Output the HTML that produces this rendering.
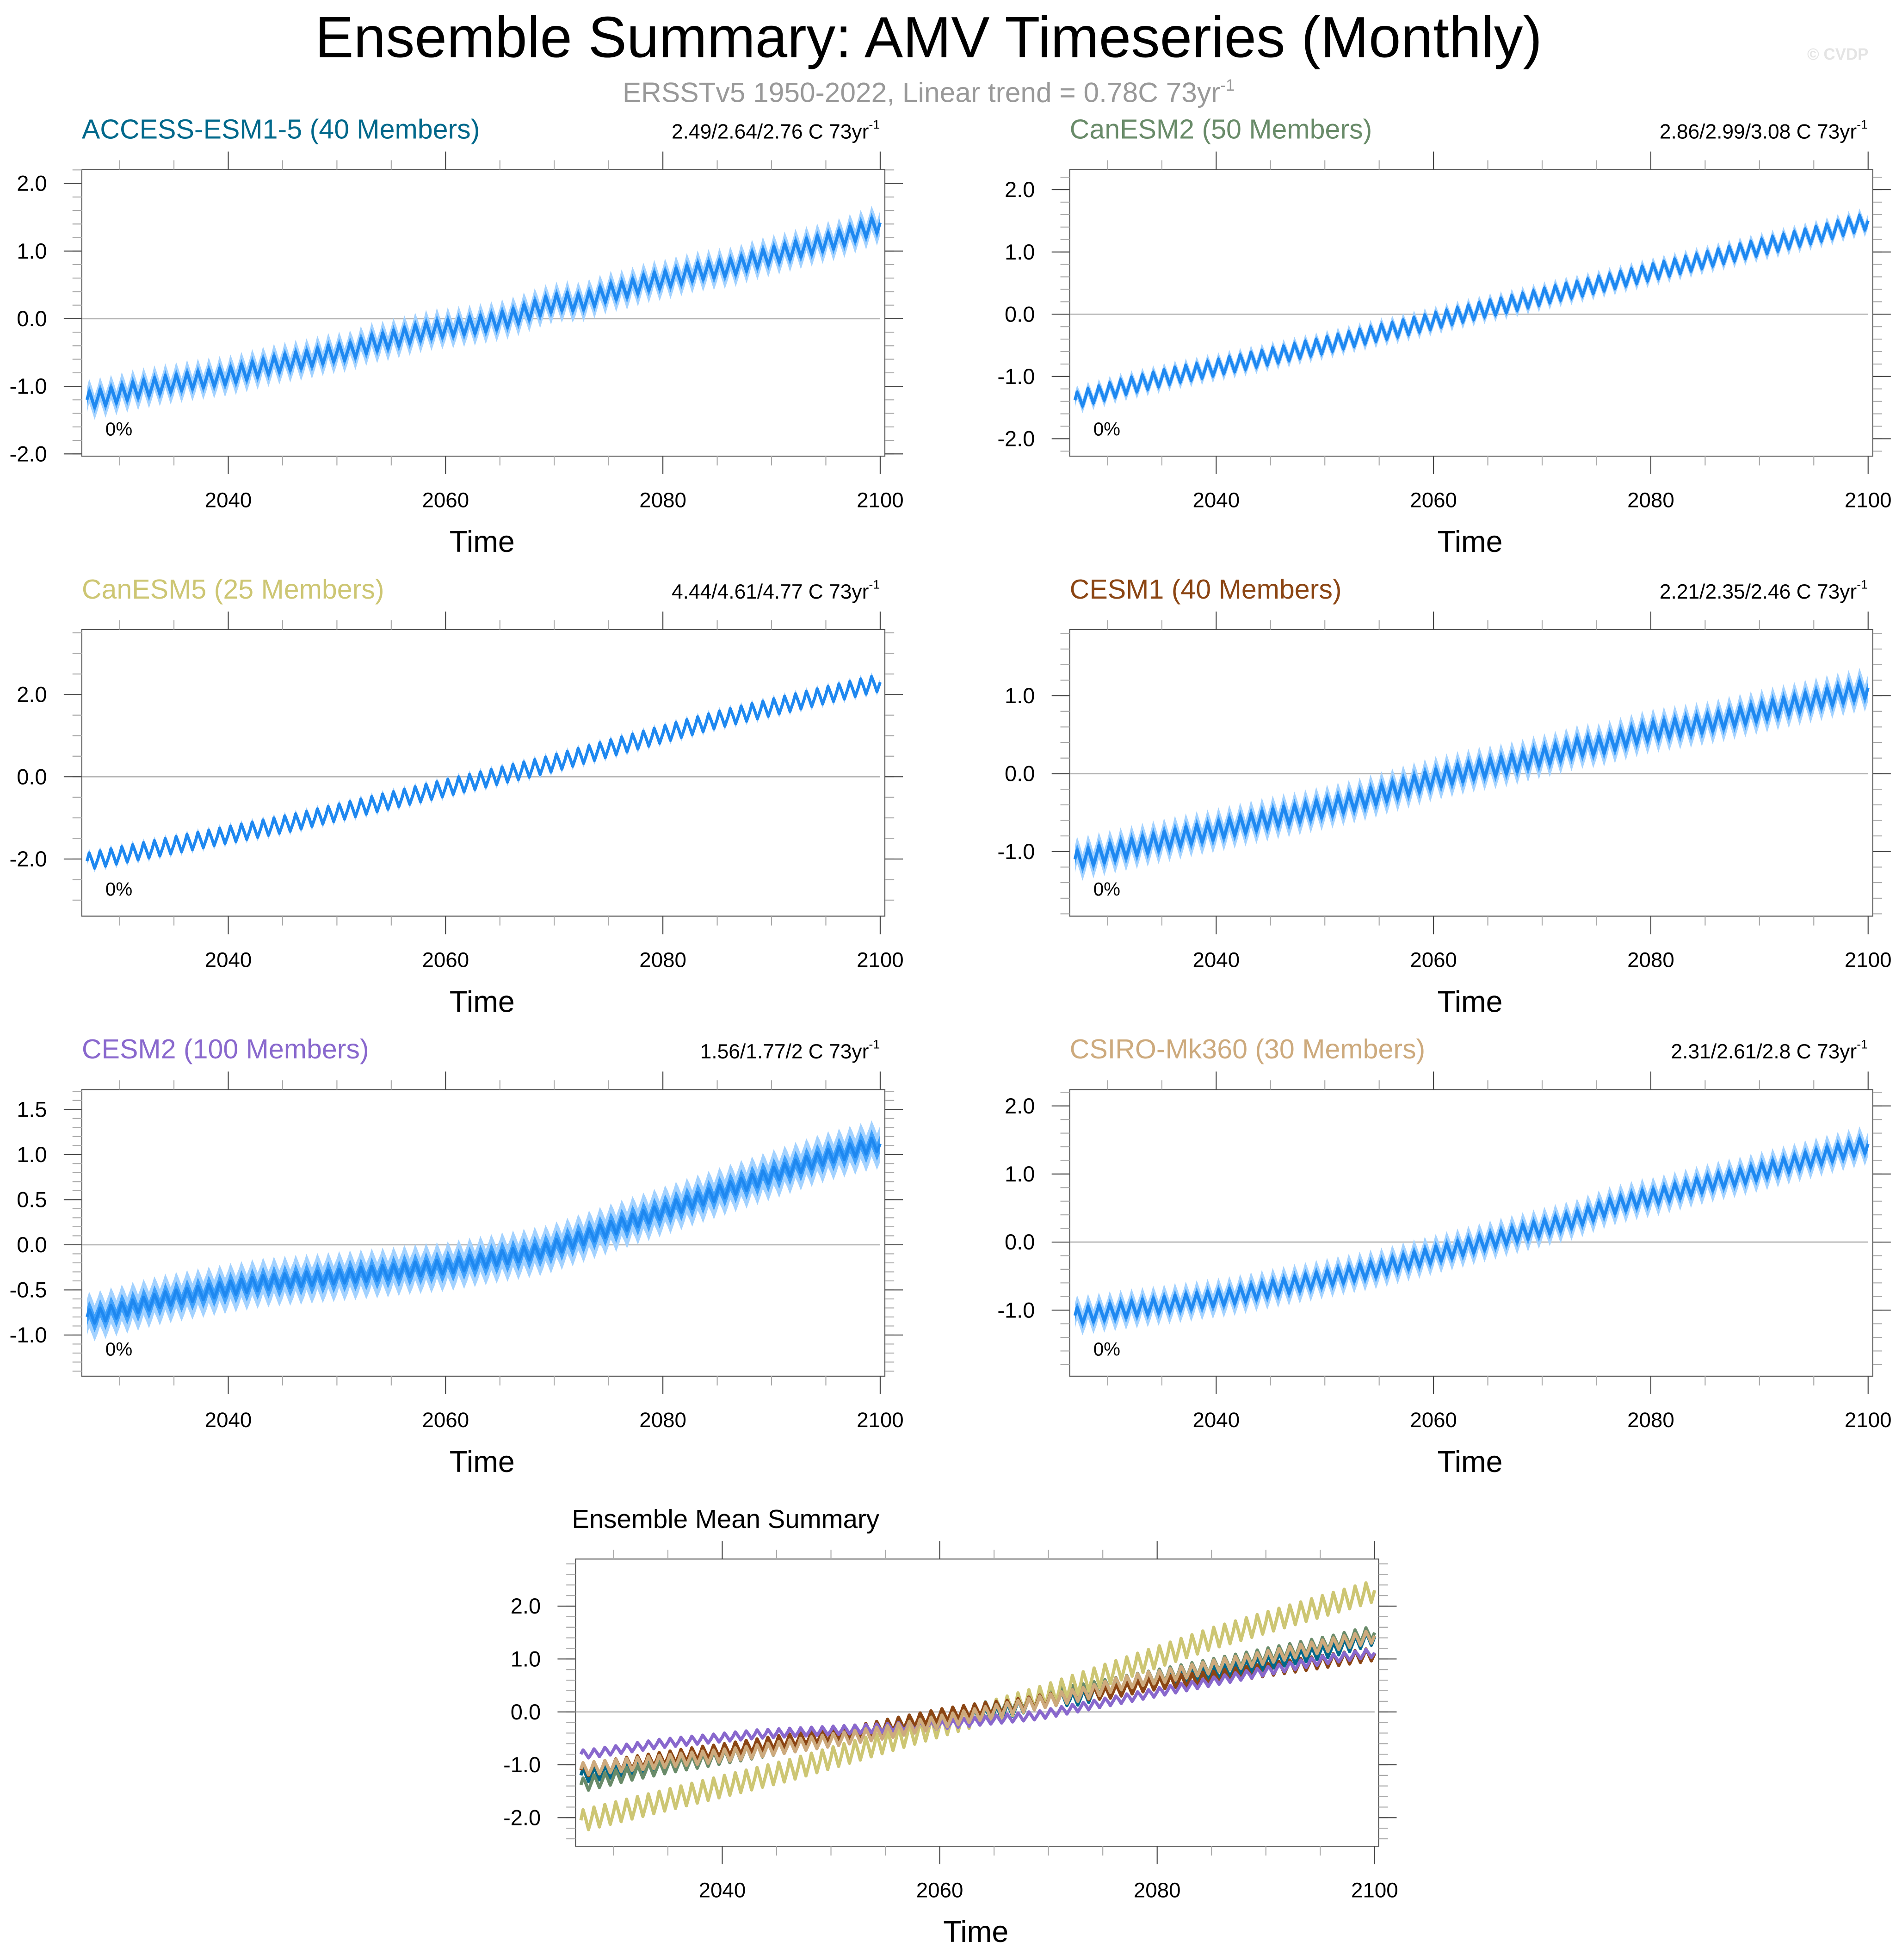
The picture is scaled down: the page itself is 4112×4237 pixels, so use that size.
<!DOCTYPE html>
<html><head><meta charset="utf-8"><title>Ensemble Summary: AMV Timeseries (Monthly)</title>
<style>html,body{margin:0;padding:0;background:#fff;}svg{display:block;font-family:"Liberation Sans",sans-serif;}</style>
</head><body>
<svg id="chart" width="4112" height="4237" viewBox="0 0 1530 1576.5" preserveAspectRatio="none" xmlns="http://www.w3.org/2000/svg">
<rect x="0" y="0" width="1530" height="1576.5" fill="#fff"/>
<text x="747" y="46" font-size="46.5" text-anchor="middle" fill="#000">Ensemble Summary: AMV Timeseries (Monthly)</text>
<text x="747" y="82" font-size="22.5" text-anchor="middle" fill="#999">ERSSTv5 1950-2022, Linear trend = 0.78C 73yr<tspan dy="-9" font-size="13">-1</tspan></text>
<text x="1503" y="48" font-size="13" font-weight="bold" text-anchor="end" fill="#e4e4e4">© CVDP</text>
</svg>
<script>
const years = [];
for (let y = 2027; y <= 2100; y++) years.push(y);
const modelNames = ["ACCESS-ESM1-5","CanESM2","CanESM5","CESM1","CESM2","CSIRO-Mk360"];
const memberCounts = [40,50,25,40,100,30];
const trendLabels = ["2.49/2.64/2.76 C 73yr","2.86/2.99/3.08 C 73yr","4.44/4.61/4.77 C 73yr","2.21/2.35/2.46 C 73yr","1.56/1.77/2 C 73yr","2.31/2.61/2.8 C 73yr"];
const modelColors = ["#00688b","#698b69","#cdc673","#8b4513","#8968cd","#cdaa7d"];
const accessMean = [-1.20,-1.17,-1.14,-1.10,-1.06,-1.03,-1.00,-0.97,-0.95,-0.92,-0.90,-0.88,-0.86,-0.84,-0.80,-0.76,-0.72,-0.68,-0.65,-0.62,-0.60,-0.56,-0.52,-0.50,-0.48,-0.42,-0.36,-0.34,-0.30,-0.26,-0.22,-0.18,-0.15,-0.14,-0.12,-0.10,-0.08,-0.05,-0.02,0.02,0.08,0.14,0.20,0.24,0.26,0.24,0.28,0.34,0.40,0.42,0.46,0.52,0.56,0.58,0.62,0.66,0.70,0.72,0.74,0.76,0.80,0.86,0.90,0.94,0.98,1.02,1.06,1.10,1.14,1.18,1.24,1.30,1.36,1.42];
const canesm2Mean = [-1.38,-1.32,-1.28,-1.23,-1.18,-1.14,-1.10,-1.06,-1.02,-0.98,-0.95,-0.92,-0.88,-0.85,-0.81,-0.78,-0.74,-0.71,-0.67,-0.64,-0.60,-0.56,-0.53,-0.49,-0.45,-0.41,-0.37,-0.33,-0.29,-0.26,-0.22,-0.18,-0.14,-0.10,-0.06,-0.02,0.02,0.06,0.10,0.13,0.17,0.21,0.25,0.29,0.33,0.37,0.40,0.44,0.48,0.52,0.56,0.60,0.64,0.68,0.72,0.76,0.80,0.84,0.88,0.92,0.96,1.00,1.04,1.08,1.12,1.16,1.20,1.24,1.28,1.32,1.37,1.42,1.46,1.50];
const canesm5Mean = [-2.05,-2.00,-1.95,-1.90,-1.85,-1.80,-1.75,-1.70,-1.65,-1.60,-1.55,-1.50,-1.45,-1.40,-1.35,-1.30,-1.25,-1.20,-1.15,-1.10,-1.04,-0.98,-0.92,-0.86,-0.80,-0.74,-0.68,-0.62,-0.56,-0.50,-0.44,-0.38,-0.32,-0.26,-0.20,-0.14,-0.08,-0.02,0.04,0.10,0.16,0.22,0.28,0.35,0.42,0.49,0.56,0.63,0.70,0.77,0.84,0.91,0.98,1.05,1.12,1.19,1.26,1.33,1.40,1.46,1.52,1.58,1.64,1.70,1.76,1.82,1.88,1.94,2.00,2.06,2.12,2.18,2.24,2.30];
const cesm1Mean = [-1.10,-1.07,-1.04,-1.01,-0.98,-0.95,-0.92,-0.89,-0.86,-0.83,-0.80,-0.77,-0.75,-0.72,-0.69,-0.66,-0.63,-0.60,-0.57,-0.54,-0.52,-0.49,-0.46,-0.43,-0.40,-0.37,-0.34,-0.30,-0.26,-0.22,-0.18,-0.14,-0.10,-0.06,-0.03,0.00,0.03,0.06,0.08,0.10,0.13,0.16,0.20,0.23,0.26,0.30,0.34,0.36,0.36,0.40,0.44,0.48,0.52,0.55,0.57,0.59,0.61,0.63,0.65,0.68,0.71,0.74,0.77,0.80,0.83,0.86,0.89,0.92,0.95,0.98,1.01,1.04,1.07,1.10];
const cesm2Mean = [-0.80,-0.78,-0.75,-0.72,-0.69,-0.66,-0.63,-0.60,-0.58,-0.56,-0.54,-0.52,-0.50,-0.48,-0.46,-0.44,-0.42,-0.41,-0.40,-0.39,-0.38,-0.37,-0.36,-0.35,-0.34,-0.33,-0.32,-0.31,-0.30,-0.28,-0.27,-0.26,-0.25,-0.24,-0.22,-0.20,-0.18,-0.16,-0.14,-0.12,-0.10,-0.08,-0.06,-0.02,0.02,0.06,0.10,0.14,0.18,0.22,0.26,0.30,0.34,0.38,0.42,0.46,0.50,0.54,0.58,0.62,0.66,0.70,0.74,0.78,0.82,0.86,0.90,0.94,0.98,1.01,1.04,1.07,1.10,1.12];
const csiroMean = [-1.08,-1.06,-1.04,-1.02,-1.00,-0.98,-0.96,-0.94,-0.92,-0.90,-0.88,-0.86,-0.84,-0.82,-0.80,-0.77,-0.74,-0.71,-0.68,-0.65,-0.62,-0.59,-0.56,-0.53,-0.50,-0.47,-0.44,-0.41,-0.38,-0.34,-0.30,-0.26,-0.22,-0.18,-0.14,-0.10,-0.06,-0.02,0.02,0.06,0.10,0.14,0.18,0.22,0.26,0.30,0.34,0.40,0.46,0.52,0.56,0.60,0.64,0.66,0.70,0.74,0.78,0.82,0.86,0.90,0.93,0.96,1.00,1.04,1.08,1.12,1.16,1.20,1.24,1.28,1.32,1.36,1.40,1.44];
const seasonalAmp = [0.13,0.13,0.2,0.12,0.08,0.12];
const innerSpread = [0.08,0.05,0.05,0.08,0.1,0.08];
const outerSpread = [0.18,0.11,0.1,0.17,0.2,0.18];
const xTickLabels = ["2040","2060","2080","2100"];
const xTickValues = [2040,2060,2080,2100];
const yTickSets = [[2,1,0,-1,-2],[2,1,0,-1,-2],[2,0,-2],[1,0,-1],[1.5,1,0.5,0,-0.5,-1],[2,1,0,-1]];
const yTickLabelSets = [["2.0","1.0","0.0","-1.0","-2.0"],["2.0","1.0","0.0","-1.0","-2.0"],["2.0","0.0","-2.0"],["1.0","0.0","-1.0"],["1.5","1.0","0.5","0.0","-0.5","-1.0"],["2.0","1.0","0.0","-1.0"]];
const yRanges = [[-2.033,2.205],[-2.28,2.323],[-3.39,3.58],[-1.83,1.85],[-1.456,1.72],[-1.97,2.24]];
const ensYTicks = [2,1,0,-1,-2];
const ensYTickLabels = ["2.0","1.0","0.0","-1.0","-2.0"];
const ensYRange = [-2.54,2.89];
const allMeans = [accessMean,canesm2Mean,canesm5Mean,cesm1Mean,cesm2Mean,csiroMean];

const NS = "http://www.w3.org/2000/svg";
const svg = document.getElementById('chart');
function mk(tag, attrs, parent) {
  const e = document.createElementNS(NS, tag);
  for (const k in attrs) e.setAttribute(k, attrs[k]);
  (parent || svg).appendChild(e);
  return e;
}
function seriesPoints(mean, amp, off) {
  const pts = [];
  for (let i = 0; i < years.length; i++) {
    const y = years[i];
    if (y === 2100) { pts.push([2100, mean[i] + off]); break; }
    const nxt = mean[i + 1];
    pts.push([y, mean[i] + off]);
    pts.push([y + 0.2, mean[i] + amp + off]);
    pts.push([y + 0.45, (mean[i] + nxt) / 2 + off]);
    pts.push([y + 0.7, (mean[i] + nxt) / 2 - amp + off]);
  }
  return pts;
}
function drawAxes(g, bx, by, bw, bh, t0, t1, y0, y1, yt, ytl, minorStep) {
  const sx = t => bx + (t - t0) / (t1 - t0) * bw;
  const sy = v => by + bh - (v - y0) / (y1 - y0) * bh;
  const z = mk('line', {x1: bx, x2: sx(2100), y1: sy(0), y2: sy(0), stroke: '#b4b4b4', 'stroke-width': 1}, g);
  
  
  for (let t = 2030; t <= 2100; t += 5) {
    const major = t % 20 === 0;
    const L = major ? 14.5 : 7.5;
    mk('line', {x1: sx(t), x2: sx(t), y1: by, y2: by - L, stroke: major ? '#444' : '#aaa', 'stroke-width': 0.8}, g);
    mk('line', {x1: sx(t), x2: sx(t), y1: by + bh, y2: by + bh + L, stroke: major ? '#444' : '#aaa', 'stroke-width': 0.8}, g);
  }
  for (let i = 0; i < xTickValues.length; i++) {
    const tx = mk('text', {x: sx(xTickValues[i]), y: by + bh + 41, 'font-size': 17, 'text-anchor': 'middle', fill: '#000'}, g);
    
    
    tx.textContent = xTickLabels[i];
  }
  const startM = Math.ceil(y0 / minorStep - 1e-6);
  for (let k = startM; k * minorStep <= y1 + 1e-6; k++) {
    const v = k * minorStep;
    mk('line', {x1: bx, x2: bx - 7.5, y1: sy(v), y2: sy(v), stroke: '#aaa', 'stroke-width': 0.8}, g);
    mk('line', {x1: bx + bw, x2: bx + bw + 7.5, y1: sy(v), y2: sy(v), stroke: '#aaa', 'stroke-width': 0.8}, g);
  }
  for (let i = 0; i < yt.length; i++) {
    mk('line', {x1: bx, x2: bx - 14.5, y1: sy(yt[i]), y2: sy(yt[i]), stroke: '#444', 'stroke-width': 0.8}, g);
    mk('line', {x1: bx + bw, x2: bx + bw + 14.5, y1: sy(yt[i]), y2: sy(yt[i]), stroke: '#444', 'stroke-width': 0.8}, g);
    const tl = mk('text', {x: bx - 28, y: sy(yt[i]) + 6, 'font-size': 17.5, 'text-anchor': 'end', fill: '#000'}, g);
    
    
    tl.textContent = ytl[i];
  }
  const xt = mk('text', {x: bx + bw / 2 - 1, y: by + bh + 77, 'font-size': 24, 'text-anchor': 'middle', fill: '#000'}, g);
  
  
  xt.textContent = 'Time';
  return {sx, sy};
}
function pathFrom(pts, sx, sy) {
  return pts.map((p, i) => (i ? 'L' : 'M') + sx(p[0]).toFixed(2) + ',' + sy(p[1]).toFixed(2)).join('');
}
function bandPath(mean, amp, spread, sx, sy) {
  const up = seriesPoints(mean, amp, spread);
  const lo = seriesPoints(mean, amp, -spread).reverse();
  return pathFrom(up, sx, sy) + lo.map(p => 'L' + sx(p[0]).toFixed(2) + ',' + sy(p[1]).toFixed(2)).join('') + 'Z';
}
const T0 = 2026.52, T1 = 2100.43;
const panelPos = [[65.8,136.4],[860.5,136.4],[65.8,506.4],[860.5,506.4],[65.8,876.4],[860.5,876.4]];
for (let m = 0; m < 6; m++) {
  const [bx, by] = panelPos[m];
  const bw = 646, bh = 230.5;
  const g = mk('g', {});
  
  
  const title = mk('text', {x: bx, y: by - 25, 'font-size': 22, fill: modelColors[m]}, g);
  
  
  title.textContent = modelNames[m] + ' (' + memberCounts[m] + ' Members)';
  const tr = mk('text', {x: bx + bw - 4, y: by - 25, 'font-size': 16.5, 'text-anchor': 'end', fill: '#000'}, g);
  
  
  tr.textContent = trendLabels[m];
  const sup = mk('tspan', {dy: -8, 'font-size': 10}, tr);
  sup.textContent = '-1';
  mk('rect', {x: bx, y: by, width: bw, height: bh, fill: '#fff', stroke: '#555', 'stroke-width': 0.8}, g);
  const minor = m === 2 ? 0.5 : (m === 4 ? 0.1 : 0.2);
  const ax = drawAxes(g, bx, by, bw, bh, T0, T1, yRanges[m][0], yRanges[m][1], yTickSets[m], yTickLabelSets[m], minor);
  const ob = mk('path', {d: bandPath(allMeans[m], seasonalAmp[m], outerSpread[m], ax.sx, ax.sy), fill: '#a3d2ff', stroke: 'none'}, g);
  
  
  const ib = mk('path', {d: bandPath(allMeans[m], seasonalAmp[m], innerSpread[m], ax.sx, ax.sy), fill: '#3fa0fb', stroke: 'none'}, g);
  
  
  const ln = mk('path', {d: pathFrom(seriesPoints(allMeans[m], seasonalAmp[m], 0), ax.sx, ax.sy), fill: 'none', stroke: '#1e88f0', 'stroke-width': 2.4, 'stroke-linejoin': 'round'}, g);
  
  
  const pc = mk('text', {x: bx + 19, y: by + 214, 'font-size': 15, fill: '#000'}, g);
  
  
  pc.textContent = '0%';
}
{
  const bx = 463, by = 1254, bw = 646, bh = 231;
  const g = mk('g', {});
  
  
  const title = mk('text', {x: bx - 3, y: by - 25, 'font-size': 21, fill: '#000'}, g);
  
  
  title.textContent = 'Ensemble Mean Summary';
  mk('rect', {x: bx, y: by, width: bw, height: bh, fill: '#fff', stroke: '#555', 'stroke-width': 0.8}, g);
  const ax = drawAxes(g, bx, by, bw, bh, 2026.51, 2100.37, ensYRange[0], ensYRange[1], ensYTicks, ensYTickLabels, 0.2);
  for (let m = 0; m < 6; m++) {
    const ln = mk('path', {d: pathFrom(seriesPoints(allMeans[m], seasonalAmp[m], 0), ax.sx, ax.sy), fill: 'none', stroke: modelColors[m], 'stroke-width': 2.6, 'stroke-linejoin': 'round'}, g);
    
    
  }
}
</script>
</body></html>
